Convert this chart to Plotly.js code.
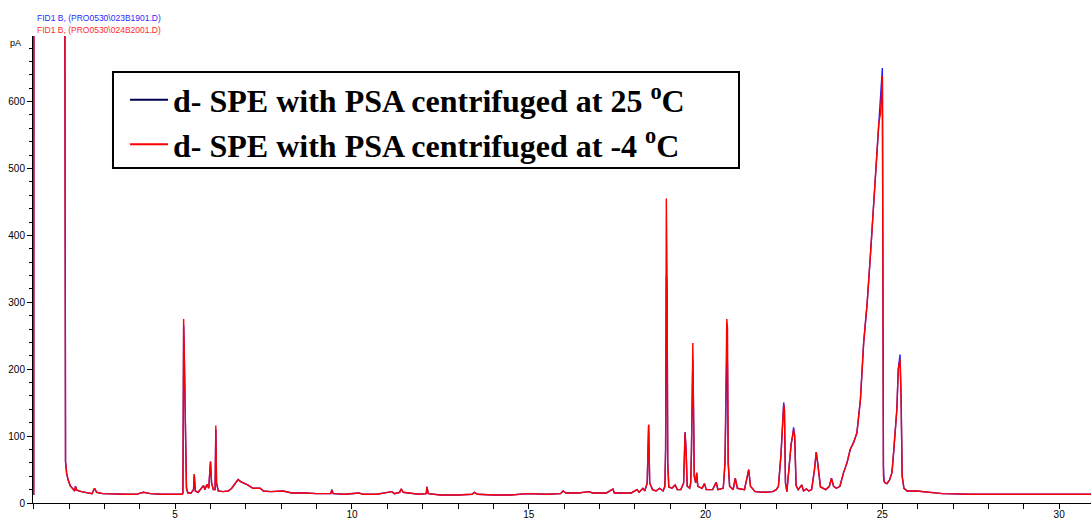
<!DOCTYPE html>
<html>
<head>
<meta charset="utf-8">
<script src="https://cdn.plot.ly/plotly-3.0.1.min.js"></script>
<style>html,body{margin:0;padding:0;background:#fff;}#chart{width:1091px;height:520px;}</style>
</head>
<body>
<div id="chart"></div>
<script>
// Retention time (min)
const retentionTime = [
  1.00, 1.01, 1.86, 1.88, 1.90, 1.93, 1.97, 2.03, 2.10, 2.16, 2.18, 2.22, 2.35, 2.50, 2.65, 2.72, 2.78, 2.95,
  3.30, 3.60, 3.90, 4.10, 4.30, 4.60, 5.00, 5.20, 5.22, 5.24, 5.26, 5.28, 5.30, 5.32, 5.36, 5.45, 5.52, 5.54,
  5.57, 5.65, 5.75, 5.80, 5.84, 5.90, 5.95, 6.00, 6.03, 6.08, 6.13, 6.15, 6.17, 6.22, 6.35, 6.50, 6.60, 6.70,
  6.78, 6.85, 6.95, 7.05, 7.20, 7.40, 7.50, 7.70, 8.05, 8.30, 8.70, 9.00, 9.40, 9.43, 9.47, 9.80, 10.20, 10.30,
  10.70, 11.13, 11.20, 11.35, 11.39, 11.45, 11.60, 11.90, 12.10, 12.12, 12.16, 12.50, 13.00, 13.40, 13.46, 13.55,
  14.00, 14.50, 14.96, 15.50, 15.90, 15.97, 16.05, 16.40, 16.71, 16.80, 17.20, 17.38, 17.42, 17.90, 18.06, 18.12,
  18.23, 18.28, 18.35, 18.39, 18.42, 18.50, 18.60, 18.70, 18.80, 18.85, 18.87, 18.89, 18.91, 18.93, 18.96, 19.05,
  19.10, 19.14, 19.20, 19.30, 19.38, 19.42, 19.45, 19.48, 19.55, 19.58, 19.60, 19.62, 19.64, 19.66, 19.68, 19.72,
  19.75, 19.78, 19.90, 19.97, 20.02, 20.20, 20.30, 20.35, 20.50, 20.55, 20.57, 20.60, 20.62, 20.64, 20.68, 20.78,
  20.84, 20.90, 21.10, 21.22, 21.27, 21.40, 21.70, 21.90, 22.00, 22.06, 22.13, 22.18, 22.21, 22.23, 22.26, 22.30,
  22.34, 22.38, 22.42, 22.46, 22.49, 22.52, 22.56, 22.62, 22.72, 22.77, 22.85, 22.92, 23.00, 23.08, 23.13, 23.17,
  23.25, 23.40, 23.50, 23.56, 23.62, 23.70, 23.80, 23.90, 24.00, 24.09, 24.19, 24.28, 24.38, 24.47, 24.57, 24.66,
  24.76, 24.83, 24.90, 24.95, 25.00, 25.03, 25.05, 25.08, 25.13, 25.20, 25.27, 25.31, 25.36, 25.41, 25.45, 25.50,
  25.53, 25.56, 25.61, 25.70, 25.97, 26.26, 26.70, 27.50, 28.50, 29.50, 30.90
];

// FID signal (pA), d-SPE with PSA centrifuged at 25 °C (blue)
const signal25C = [
  12, 1500, 1500, 132, 62, 45, 35, 26, 21, 18, 25, 19, 17, 15, 14, 22, 16, 14,
  13, 13, 13, 16, 14, 13, 13, 13, 15, 265, 215, 88, 85, 22, 15, 15, 20, 43,
  18, 16, 22, 26, 20, 28, 22, 62, 30, 20, 20, 110, 30, 18, 17, 18, 22, 30,
  35, 32, 30, 27, 22, 22, 18, 17, 18, 15, 15, 14, 14, 20, 14, 13, 15, 13,
  13, 17, 14, 16, 21, 16, 15, 13, 14, 24, 14, 12, 12, 13, 16, 13,
  12, 12, 14, 13, 14, 18, 15, 15, 17, 15, 15, 21, 15, 15, 20, 16,
  22, 18, 30, 117, 30, 20, 18, 22, 18, 25, 80, 340, 330, 60, 24, 22,
  25, 27, 20, 20, 30, 106, 78, 25, 22, 30, 75, 214, 215, 140, 40, 30,
  45, 25, 22, 29, 20, 20, 31, 20, 22, 60, 150, 220, 210, 60, 25, 20,
  37, 22, 20, 50, 25, 17, 16, 17, 20, 25, 70, 132, 150, 140, 30, 17,
  40, 75, 88, 100, 113, 100, 26, 20, 27, 18, 21, 18, 20, 50, 76, 60,
  24, 20, 25, 37, 25, 22, 25, 45, 60, 80, 91, 105, 155, 239, 299, 369,
  449, 513, 575, 608, 650, 55, 32, 30, 29, 34, 45, 70, 100, 140, 200, 222,
  155, 40, 22, 18, 18, 16, 14, 13, 13, 13, 13
];

// FID signal (pA), d-SPE with PSA centrifuged at -4 °C (red)
const signalMinus4C = [
  12, 1500, 1500, 120, 62, 45, 35, 26, 21, 18, 25, 19, 17, 15, 14, 22, 16, 14,
  13, 13, 13, 16, 14, 13, 13, 13, 15, 275, 220, 88, 85, 22, 15, 15, 20, 43,
  18, 16, 22, 26, 20, 28, 22, 62, 30, 20, 20, 116, 30, 18, 17, 18, 22, 30,
  35, 32, 30, 27, 22, 22, 18, 17, 18, 15, 15, 14, 14, 20, 14, 13, 15, 13,
  13, 17, 14, 16, 21, 16, 15, 13, 14, 24, 14, 12, 12, 13, 16, 13,
  12, 12, 14, 13, 14, 18, 15, 15, 17, 15, 15, 21, 15, 15, 20, 16,
  22, 18, 30, 117, 30, 20, 18, 22, 18, 25, 80, 455, 347, 60, 24, 22,
  25, 27, 20, 20, 30, 105, 78, 25, 22, 30, 75, 214, 239, 135, 40, 30,
  45, 25, 22, 29, 20, 20, 31, 20, 22, 60, 150, 275, 262, 60, 25, 20,
  37, 22, 20, 50, 25, 17, 16, 17, 20, 25, 70, 130, 147, 140, 30, 17,
  40, 75, 88, 100, 110, 100, 26, 20, 27, 18, 21, 18, 20, 50, 76, 60,
  24, 20, 25, 37, 25, 22, 25, 45, 60, 80, 91, 105, 155, 239, 299, 369,
  449, 513, 568, 583, 638, 40, 32, 30, 29, 34, 45, 70, 100, 140, 200, 215,
  155, 40, 22, 18, 18, 16, 14, 13, 13, 13, 13
];

const seriesNames = [
  'd- SPE with PSA centrifuged at 25 <sup>o</sup>C',
  'd- SPE with PSA centrifuged at -4 <sup>o</sup>C'
];
const fileLabels = [
  'FID1 B, (PRO0530\\023B1901.D)',
  'FID1 B, (PRO0530\\024B2001.D)'
];
const xTickValues = [5, 10, 15, 20, 25, 30];
const yTickValues = [0, 100, 200, 300, 400, 500, 600];

const traces = [
  {x: retentionTime, y: signal25C, type: 'scatter', mode: 'lines', showlegend: false,
   line: {color: '#1f1fff', width: 1.4}, hoverinfo: 'x+y'},
  {x: retentionTime, y: signalMinus4C, type: 'scatter', mode: 'lines', showlegend: false,
   line: {color: '#ff0000', width: 1.4}, hoverinfo: 'x+y'},
  {x: [null], y: [null], type: 'scatter', mode: 'lines', name: seriesNames[0],
   line: {color: '#000050', width: 2}},
  {x: [null], y: [null], type: 'scatter', mode: 'lines', name: seriesNames[1],
   line: {color: '#ff0000', width: 2}}
];

const axisFont = {family: 'Liberation Sans, Arial, sans-serif', size: 10, color: '#000'};

const layout = {
  width: 1091, height: 520,
  margin: {l: 33, r: 0, t: 36, b: 17, pad: 0},
  paper_bgcolor: '#fff', plot_bgcolor: '#fff',
  showlegend: true,
  legend: {
    x: 0.087, y: 0.922, xanchor: 'left', yanchor: 'top',
    bgcolor: 'rgba(0,0,0,0)', borderwidth: 0, itemwidth: 38,
    font: {family: 'Liberation Serif, Times New Roman, serif', size: 32, weight: 'bold', color: '#000'},
    tracegroupgap: 0
  },
  xaxis: {
    range: [0.98, 30.9], tickvals: xTickValues, ticktext: xTickValues.map(String),
    showgrid: false, zeroline: false, showline: true, linecolor: '#000', linewidth: 1,
    ticks: 'outside', ticklen: 5, tickcolor: '#000', tickfont: axisFont, ticklabelstandoff: -3,
    minor: {dtick: 1, tick0: 0, ticks: 'outside', ticklen: 5, tickcolor: '#000'}
  },
  yaxis: {
    range: [0, 698], tickvals: yTickValues, ticktext: yTickValues.map(String),
    showgrid: false, zeroline: false, showline: true, linecolor: '#000', linewidth: 1,
    ticks: 'outside', ticklen: 5, tickcolor: '#000', tickfont: axisFont,
    minor: {dtick: 20, tick0: 0, ticks: 'outside', ticklen: 3, tickcolor: '#000'}
  },
  shapes: [
    {type: 'rect', xref: 'paper', yref: 'paper', x0: 0.0756, x1: 0.6673, y0: 0.7173, y1: 0.9229,
     line: {color: '#000', width: 2}, fillcolor: '#fff', layer: 'below'}
  ],
  annotations: [
    {xref: 'paper', yref: 'paper', x: 0.002, y: 1.0385, xanchor: 'left', yanchor: 'middle', showarrow: false,
     text: fileLabels[0], font: {family: 'Liberation Sans, Arial, sans-serif', size: 8.5, color: '#2a2aff'}},
    {xref: 'paper', yref: 'paper', x: 0.002, y: 1.0128, xanchor: 'left', yanchor: 'middle', showarrow: false,
     text: fileLabels[1], font: {family: 'Liberation Sans, Arial, sans-serif', size: 8.5, color: '#ff2a2a'}},
    {xref: 'paper', yref: 'paper', x: -0.017, y: 0.985, xanchor: 'center', yanchor: 'middle', showarrow: false,
     text: 'pA', font: {family: 'Liberation Sans, Arial, sans-serif', size: 9, color: '#000'}}
  ]
};

Plotly.newPlot('chart', traces, layout, {displayModeBar: false, staticPlot: true});
</script>
</body>
</html>
